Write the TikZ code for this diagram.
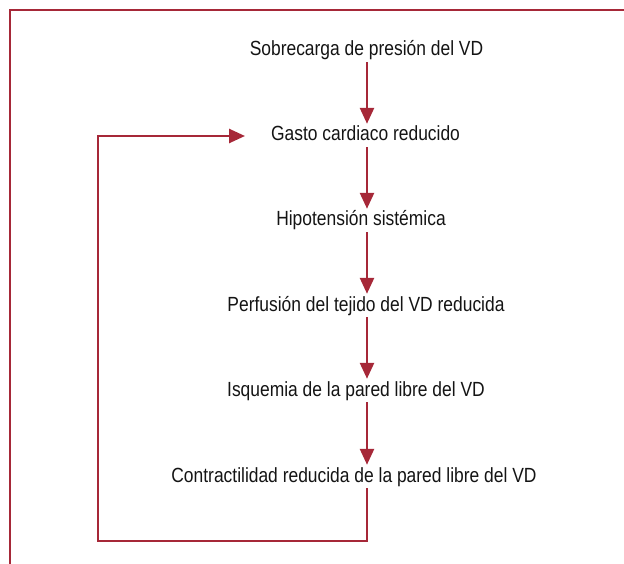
\documentclass[tikz,border=0pt]{standalone}
\usepackage{fontspec}
\setmainfont[FakeStretch=0.85]{Liberation Sans}
\usetikzlibrary{arrows.meta}
\definecolor{wine}{RGB}{166,40,56}
\definecolor{ink}{RGB}{20,20,20}
\begin{document}
\begin{tikzpicture}[x=1pt,y=-1pt,
  lbl/.style={font=\fontsize{20.5}{24}\selectfont, text=ink, inner xsep=0pt, inner ysep=2pt,
              text height=15pt, text depth=4pt, anchor=base},
  redline/.style={draw=wine, line width=2.6pt},
  flow/.style={redline, -{Triangle[length=16pt,width=14pt]}}]
\useasboundingbox (0,0) rectangle (624,564);
% frame
\draw[redline] (10,564) -- (10,10) -- (624,10);
% nodes
\node[lbl] (n1) at (366.5,56) {Sobrecarga de presión del VD};
\node[lbl] (n2) at (365.5,141) {Gasto cardiaco reducido};
\node[lbl] (n3) at (361,226) {Hipotensión sistémica};
\node[lbl] (n4) at (366,311) {Perfusión del tejido del VD reducida};
\node[lbl] (n5) at (356,396) {Isquemia de la pared libre del VD};
\node[lbl] (n6) at (354,482) {Contractilidad reducida de la pared libre del VD};
% arrows (vertical at x=367)
\draw[flow] (367,0 |- n1.south) -- (367,0 |- n2.north);
\draw[flow] (367,0 |- n2.south) -- (367,0 |- n3.north);
\draw[flow] (367,0 |- n3.south) -- (367,0 |- n4.north);
\draw[flow] (367,0 |- n4.south) -- (367,0 |- n5.north);
\draw[flow] (367,0 |- n5.south) -- (367,0 |- n6.north);
% feedback loop
\coordinate (c1) at (367,541);
\coordinate (c2) at (98,541);
\coordinate (c3) at (98,136);
\coordinate (c4) at (245,136);
\draw[flow] (367,0 |- n6.south) -- (c1) -- (c2) -- (c3) -- (c4);
\end{tikzpicture}
\end{document}
